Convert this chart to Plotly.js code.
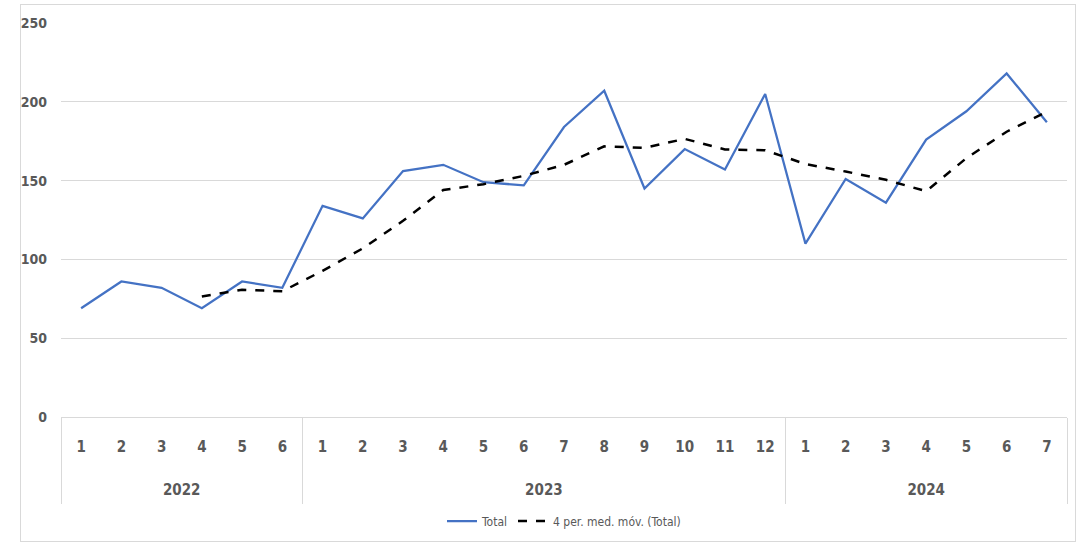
<!DOCTYPE html>
<html>
<head>
<meta charset="utf-8">
<script src="https://cdn.plot.ly/plotly-3.0.1.min.js"></script>
<style>
html,body{margin:0;padding:0;background:#fff;}
#chart{width:1084px;height:542px;}
#frame{position:absolute;left:20px;top:4px;width:1056px;height:538px;border:1px solid #d9d9d9;box-sizing:border-box;pointer-events:none;}
</style>
</head>
<body>
<div id="chart"></div>
<div id="frame"></div>
<script>
const years = ["2022","2022","2022","2022","2022","2022",
  "2023","2023","2023","2023","2023","2023","2023","2023","2023","2023","2023","2023",
  "2024","2024","2024","2024","2024","2024","2024"];
const months = ["1","2","3","4","5","6",
  "1","2","3","4","5","6","7","8","9","10","11","12",
  "1","2","3","4","5","6","7"];
const total = [69,86,82,69,86,82,
  134,126,156,160,149,147,184,207,145,170,157,205,
  110,151,136,176,194,218,187];
const movAvg = [null,null,null,76.5,80.75,79.75,
  92.75,107,124.5,144,147.75,153,160,171.75,170.75,176.5,169.75,169.25,
  160.5,155.75,150.5,143.25,164.25,181,193.75];
const yearLabels = ["2022","2023","2024"];
const yTicks = [0,50,100,150,200,250];

// category keys built from the two label arrays
const keys = years.map((y,i)=> y + "-" + months[i]);
// group centres and boundaries derived from the year array (in category index units)
const groupCenters = [], groupEdges = [-0.5];
yearLabels.forEach(yr=>{
  const first = years.indexOf(yr), last = years.lastIndexOf(yr);
  groupCenters.push((first+last)/2);
  groupEdges.push(last+0.5);
});
const xr = [-0.5, keys.length-0.5];

const fontFam = '"Liberation Sans Narrow","DejaVu Sans Condensed","DejaVu Sans",sans-serif';
const gray = '#595959';
const lineGray = '#d9d9d9';
const tf = {family:fontFam, size:15, color:gray, weight:'bold'};
const tfY = {family:fontFam, size:14, color:gray, weight:'bold'};

// paper geometry: plot bottom at 417px, paper spans 23..542px
const H = 542, T = 23, B = 0;
const paperH = H - T - B;
const frac = px => (H - B - px) / paperH;

const traces = [
  {x:keys, y:total, type:'scatter', mode:'lines', name:'Total',
   line:{color:'#4472C4', width:2.25}},
  {x:keys, y:movAvg, type:'scatter', mode:'lines', name:'4 per. med. móv. (Total)',
   line:{color:'#000000', width:2.5, dash:'dash'}, connectgaps:false},
  // empty helper traces so the divider / year axes get drawn
  {x:[], y:[], xaxis:'x2', yaxis:'y', type:'scatter', mode:'lines', showlegend:false, hoverinfo:'skip'},
  {x:[], y:[], xaxis:'x3', yaxis:'y', type:'scatter', mode:'lines', showlegend:false, hoverinfo:'skip'}
];

const layout = {
  width:1084, height:542,
  margin:{l:61, r:17, t:T, b:B},
  paper_bgcolor:'#fff', plot_bgcolor:'#fff',
  showlegend:true,
  legend:{orientation:'h', x:0.5, xanchor:'center', y:frac(521), yanchor:'middle',
    font:{family:fontFam, size:12, color:gray}, itemwidth:30, tracegroupgap:0},
  xaxis:{type:'category', range:xr, tickmode:'array', tickvals:keys, ticktext:months,
    showgrid:false, zeroline:false, showline:false, ticks:'',
    ticklabelstandoff:19, tickfont:tf, automargin:false},
  xaxis2:{overlaying:'x', anchor:'free', position:frac(417), range:xr, type:'linear',
    tickmode:'array', tickvals:groupEdges, showticklabels:false,
    ticks:'outside', ticklen:86, tickwidth:1, tickcolor:lineGray,
    showgrid:false, zeroline:false, showline:false, automargin:false},
  xaxis3:{overlaying:'x', anchor:'free', position:frac(479), range:xr, type:'linear',
    tickmode:'array', tickvals:groupCenters, ticktext:yearLabels, ticks:'',
    showgrid:false, zeroline:false, showline:false, tickfont:tf, automargin:false},
  yaxis:{domain:[frac(417),1], range:[0,250], tickvals:yTicks, showgrid:true, gridcolor:lineGray, gridwidth:1,
    zeroline:true, zerolinecolor:lineGray, zerolinewidth:1,
    showline:false, ticks:'', ticklabelstandoff:13, tickfont:tfY, automargin:false}
};

Plotly.newPlot('chart', traces, layout, {displayModeBar:false, staticPlot:true});
</script>
</body>
</html>
